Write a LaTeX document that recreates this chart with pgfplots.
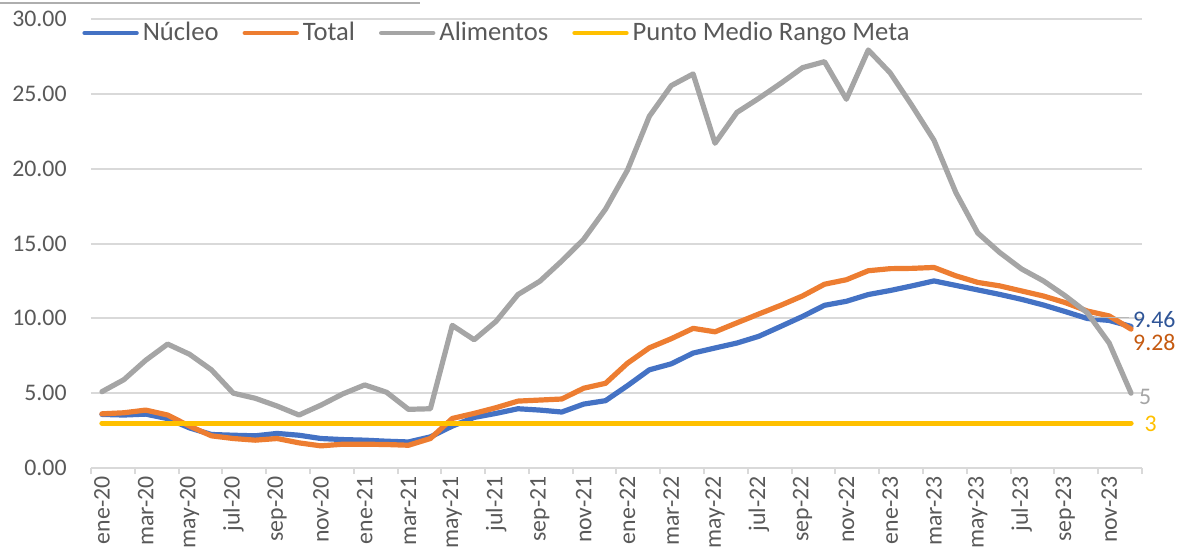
\documentclass[border=0pt]{standalone}
\usepackage{pgfplots}
\pgfplotsset{compat=1.18}
\usepackage{pgfplotstable}
\usepackage{fontspec}
\setmainfont{Carlito}
\definecolor{cblue}{HTML}{4472C4}
\definecolor{corange}{HTML}{ED7D31}
\definecolor{cgray}{HTML}{A5A5A5}
\definecolor{cyellow}{HTML}{FFC000}
\definecolor{ctext}{HTML}{595959}
\definecolor{cgrid}{HTML}{D9D9D9}
\definecolor{lblue}{HTML}{2F5597}
\definecolor{lorange}{HTML}{C55A11}
\pgfplotstableread{
i nucleo total alim meta
0 3.58 3.62 5.10 3
1 3.54 3.69 5.90 3
2 3.60 3.87 7.20 3
3 3.30 3.54 8.28 3
4 2.68 2.80 7.60 3
5 2.24 2.15 6.56 3
6 2.19 1.97 5.00 3
7 2.15 1.86 4.66 3
8 2.31 1.97 4.14 3
9 2.19 1.68 3.54 3
10 1.97 1.48 4.20 3
11 1.90 1.59 4.95 3
12 1.86 1.59 5.55 3
13 1.79 1.57 5.06 3
14 1.74 1.52 3.92 3
15 2.08 1.97 3.96 3
16 2.80 3.31 9.53 3
17 3.38 3.65 8.57 3
18 3.65 4.03 9.80 3
19 3.96 4.47 11.59 3
20 3.87 4.54 12.48 3
21 3.74 4.61 13.83 3
22 4.27 5.33 15.28 3
23 4.50 5.66 17.30 3
24 5.50 7.00 19.90 3
25 6.56 8.03 23.50 3
26 6.96 8.64 25.55 3
27 7.68 9.33 26.33 3
28 8.02 9.10 21.70 3
29 8.35 9.70 23.76 3
30 8.80 10.29 24.70 3
31 9.46 10.87 25.70 3
32 10.13 11.50 26.75 3
33 10.87 12.28 27.15 3
34 11.14 12.58 24.64 3
35 11.59 13.18 27.93 3
36 11.86 13.32 26.40 3
37 12.17 13.34 24.20 3
38 12.50 13.40 21.90 3
39 12.20 12.84 18.40 3
40 11.90 12.40 15.70 3
41 11.60 12.17 14.40 3
42 11.27 11.83 13.30 3
43 10.89 11.49 12.50 3
44 10.45 11.05 11.50 3
45 9.99 10.49 10.37 3
46 9.86 10.16 8.35 3
47 9.46 9.28 5.00 3
}\datatable
\newcommand\tfs{\fontsize{11.9pt}{14pt}\selectfont}
\newcommand\lfs{\fontsize{13.3pt}{15pt}\selectfont}
\begin{document}
\begin{tikzpicture}
\useasboundingbox (-45.5pt,-43pt) rectangle (544.5pt,234pt);
\draw[color=cgray!90, line width=1pt] (-45.5pt,232.5pt) -- (164.5pt,232.5pt);
\begin{axis}[
  at={(0,0)}, anchor=south west,
  scale only axis,
  width=525.5pt, height=224.5pt,
  xmin=-0.5, xmax=47.5,
  ymin=0, ymax=30,
  clip=false,
  axis lines*=left,
  y axis line style={draw=none},
  x axis line style={color=cgrid, line width=1pt},
  ymajorgrids,
  grid style={color=cgrid, line width=1pt},
  ytick={0,5,...,30},
  ytick style={draw=none},
  yticklabel style={font=\tfs, color=ctext, anchor=east, inner sep=0pt, xshift=-12pt,
    /pgf/number format/.cd, fixed, fixed zerofill, precision=2, assume math mode=true},
  xtick={0,2,...,46},
  xticklabels={ene-20,mar-20,may-20,jul-20,sep-20,nov-20,ene-21,mar-21,may-21,jul-21,sep-21,nov-21,ene-22,mar-22,may-22,jul-22,sep-22,nov-22,ene-23,mar-23,may-23,jul-23,sep-23,nov-23},
  major x tick style={draw=none},
  xticklabel style={font=\tfs, color=ctext, yshift=-4pt, rotate=90, anchor=east, inner sep=0pt},
  extra x ticks={-0.5,1.5,...,47.5},
  extra x tick labels={},
  extra x tick style={grid=none, tick align=outside, major tick length=3pt,
    major x tick style={draw=cgrid, line width=1pt}},
  legend style={at={(rel axis cs:0,1)}, anchor=west, xshift=-4.5pt, yshift=-7pt,
    draw=none, fill=none, inner sep=0pt, font=\lfs, text=ctext,
    /tikz/every even column/.append style={column sep=10pt},
    /tikz/every odd column/.append style={column sep=0pt}},
  legend columns=-1,
  legend image code/.code={\draw[line width=2.2pt, line cap=round, #1] (0pt,0pt) -- (26pt,0pt);},
  every axis plot/.append style={line width=2.6pt, line join=round, line cap=round, mark=none},
]
\addplot[color=cblue] table[x=i, y=nucleo] {\datatable};
\addlegendentry{Núcleo}
\addplot[color=corange] table[x=i, y=total] {\datatable};
\addlegendentry{Total}
\addplot[color=cgray] table[x=i, y=alim] {\datatable};
\addlegendentry{Alimentos}
\addplot[color=cyellow] table[x=i, y=meta] {\datatable};
\addlegendentry{Punto Medio Rango Meta}
\draw[color=cgray!80, line width=0.6pt] (axis cs:45.3,10.05) -- (axis cs:46.9,10.05);
\node[anchor=west, inner sep=0pt, font=\tfs, text=lblue] at (axis cs:47.08,9.93) {9.46};
\node[anchor=west, inner sep=0pt, font=\tfs, text=lorange] at (axis cs:47.08,8.39) {9.28};
\node[anchor=west, inner sep=0pt, font=\tfs, text=cgray] at (axis cs:47.35,4.75) {5};
\node[anchor=west, inner sep=0pt, font=\tfs, text=cyellow] at (axis cs:47.6,2.93) {3};
\end{axis}
\end{tikzpicture}
\end{document}
